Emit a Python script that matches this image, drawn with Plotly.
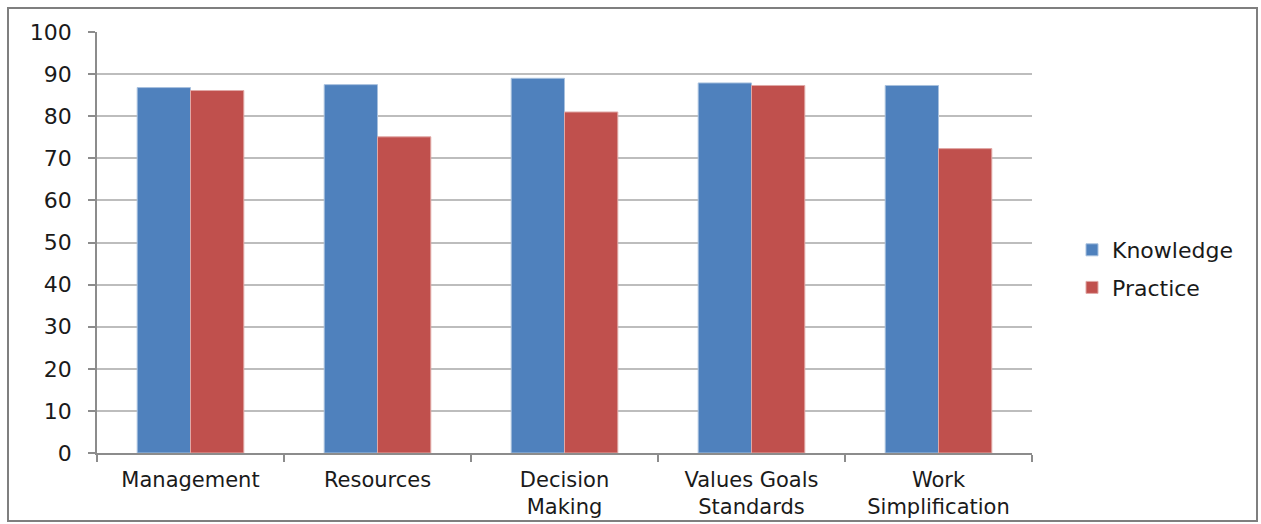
import plotly.graph_objects as go

categories = ["Management", "Resources", "Decision<br>Making", "Values Goals<br>Standards", "Work<br>Simplification"]
knowledge = [86.8, 87.5, 89.0, 87.9, 87.3]
practice = [86.1, 75.1, 81.0, 87.3, 72.3]
y_ticks = [0, 10, 20, 30, 40, 50, 60, 70, 80, 90, 100]

FONT = "DejaVu Sans"
FS = 22
XFS = 21

fig = go.Figure()
fig.add_trace(go.Bar(x=categories, y=knowledge, name="Knowledge", legendgroup="k",
                     marker=dict(color="#4F81BD", line=dict(color="#A7C0DE", width=1))))
fig.add_trace(go.Bar(x=categories, y=practice, name="Practice", legendgroup="p",
                     marker=dict(color="#C0504D", line=dict(color="#E0A8A6", width=1))))

W, H = 1261, 524
L, R, T, B = 97, 229, 32, 71
pw, ph = W - L - R, H - T - B

def px_x(x):
    return (x - L) / pw

def px_y(y):
    return (H - B - y) / ph

fig.update_layout(
    width=W, height=H,
    margin=dict(l=L, r=R, t=T, b=B, autoexpand=False),
    paper_bgcolor="white", plot_bgcolor="white",
    barmode="group", bargap=0.43, bargroupgap=0,
    font=dict(family=FONT, size=FS, color="#1a1a1a"),
    legend=dict(x=px_x(1072), y=px_y(269), xanchor="left", yanchor="middle",
                traceorder="grouped", tracegroupgap=6,
                font=dict(family=FONT, size=FS, color="#1a1a1a"),
                bgcolor="rgba(0,0,0,0)"),
    xaxis=dict(showgrid=False, showline=True, linecolor="#8c8c8c", linewidth=1.5,
               ticks="outside", tickson="boundaries", ticklen=7, tickcolor="#8c8c8c",
               tickwidth=1.5, tickfont=dict(family=FONT, size=XFS, color="#1a1a1a"),
               ticklabelstandoff=7, automargin=False),
    yaxis=dict(range=[0, 100], tickvals=y_ticks, showgrid=True, gridcolor="#bdbdbd",
               gridwidth=1.5, showline=True, linecolor="#8c8c8c", linewidth=1.5,
               ticks="outside", ticklen=7, tickcolor="#8c8c8c", tickwidth=1.5,
               tickfont=dict(family=FONT, size=FS, color="#1a1a1a"),
               ticklabelstandoff=12, zeroline=False, automargin=False),
    shapes=[dict(type="rect", xref="paper", yref="paper",
                 x0=px_x(8), x1=px_x(1257), y0=px_y(521), y1=px_y(8),
                 line=dict(color="#7f7f7f", width=2), fillcolor="rgba(0,0,0,0)", layer="below")],
)

fig.write_html("out.html")
